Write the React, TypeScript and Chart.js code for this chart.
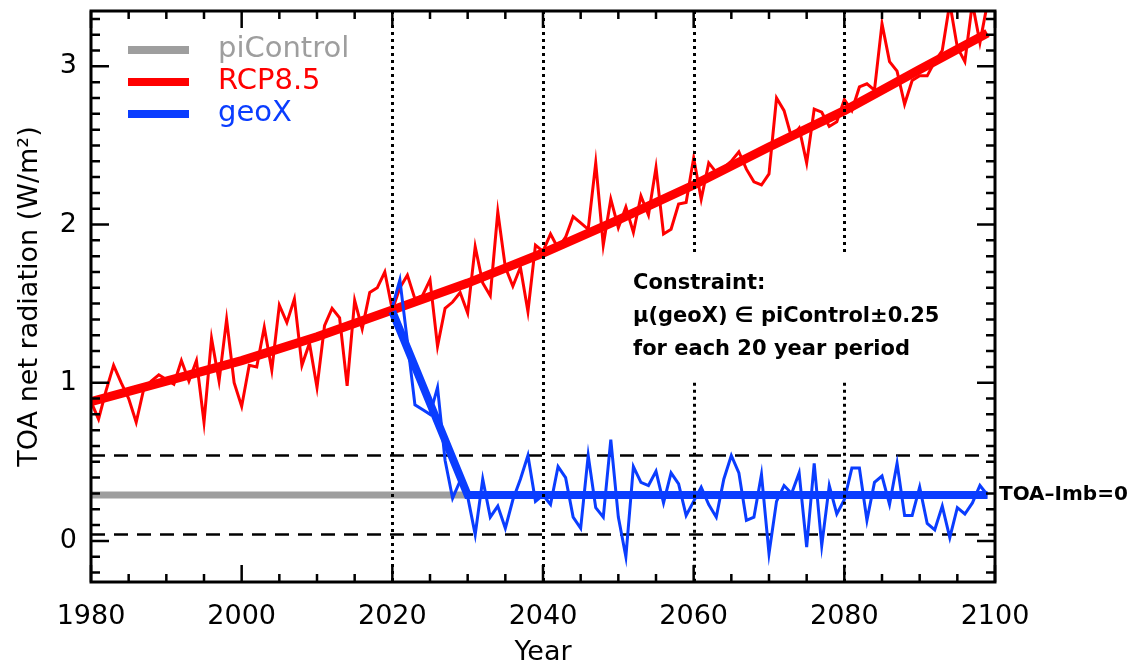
import React, { useEffect, useRef } from 'react';
import { Chart, registerables } from 'chart.js';

Chart.register(...registerables);

// ---------- DATA ----------
const rcpStartYear = 1980;
const rcpAnnual = [
  0.88, 0.77, 0.95, 1.11, 1.0, 0.9, 0.75, 0.96, 1.01, 1.05,
  1.02, 0.99, 1.14, 1.01, 1.14, 0.75, 1.28, 1.01, 1.4, 1.0,
  0.85, 1.11, 1.1, 1.35, 1.08, 1.49, 1.38, 1.53, 1.11, 1.25,
  0.97, 1.36, 1.47, 1.41, 0.98, 1.52, 1.34, 1.57, 1.6, 1.7,
  1.46, 1.6, 1.68, 1.53, 1.55, 1.65, 1.23, 1.47, 1.51, 1.57,
  1.44, 1.86, 1.63, 1.55, 2.08, 1.73, 1.61, 1.73, 1.45, 1.87,
  1.83, 1.94, 1.85, 1.92, 2.05, 2.01, 1.97, 2.39, 1.87, 2.16,
  1.98, 2.11, 1.95, 2.18, 2.06, 2.36, 1.94, 1.97, 2.13, 2.14,
  2.42, 2.16, 2.39, 2.33, 2.36, 2.4, 2.46, 2.35, 2.27, 2.25,
  2.32, 2.8, 2.72, 2.55, 2.61, 2.39, 2.73, 2.71, 2.62, 2.65,
  2.79, 2.72, 2.87, 2.89, 2.85, 3.27, 3.03, 2.97, 2.76, 2.91,
  2.94, 2.94, 3.03, 3.1, 3.4, 3.12, 3.03, 3.4, 3.15, 3.4,
];

const geoStartYear = 2020;
const geoAnnual = [
  1.48, 1.65, 1.26, 0.86, 0.83, 0.8, 0.97, 0.51, 0.27, 0.38,
  0.28, 0.04, 0.39, 0.15, 0.22, 0.08, 0.26, 0.39, 0.54, 0.25,
  0.29, 0.23, 0.47, 0.4, 0.15, 0.08, 0.54, 0.21, 0.15, 0.64,
  0.15, -0.1, 0.47, 0.37, 0.35, 0.44, 0.24, 0.43, 0.36, 0.16,
  0.25, 0.34, 0.23, 0.15, 0.39, 0.54, 0.43, 0.13, 0.15, 0.42,
  -0.08, 0.25, 0.35, 0.3, 0.43, -0.04, 0.49, -0.03, 0.35, 0.17,
  0.26, 0.46, 0.46, 0.13, 0.37, 0.41, 0.23, 0.49, 0.16, 0.16,
  0.34, 0.11, 0.07, 0.22, 0.02, 0.21, 0.17, 0.24, 0.35, 0.29,
];

const rcpTrendYears = [1980, 1990, 2000, 2010, 2020, 2030, 2040, 2050, 2060, 2070, 2080, 2090, 2099];
const rcpTrendValues = [0.88, 1.01, 1.14, 1.29, 1.46, 1.63, 1.82, 2.03, 2.25, 2.49, 2.72, 2.98, 3.21];

const geoTrendYears = [2020, 2030, 2099];
const geoTrendValues = [1.45, 0.29, 0.29];

const piControlYears = [1980, 2099];
const piControlLevel = 0.29;
const piControlTolerance = 0.25;

const xTickValues = [1980, 2000, 2020, 2040, 2060, 2080, 2100];
const yTickValues = [0, 1, 2, 3];
const dividerYears = [2020, 2040, 2060, 2080];
const dividerYearsWithGap = [2060, 2080];
const dividerGapRange = [1.0, 1.82];

const legendLabels = ['piControl', 'RCP8.5', 'geoX'];
const annotationLines = ['Constraint:', '\u03bc(geoX) \u2208 piControl\u00b10.25', 'for each 20 year period'];
const balanceLabel = 'TOA\u2013Imb=0';

// ---------- STYLE ----------
const GRAY = '#9E9E9E';
const RED = '#FF0000';
const BLUE = '#0A3DFF';
const FONT = "'DejaVu Sans', 'Liberation Sans', sans-serif";

const toPoints = (start: number, vals: number[]) => vals.map((v, i) => ({ x: start + i, y: v }));
const zip = (xs: number[], ys: number[]) => xs.map((x, i) => ({ x, y: ys[i] }));

const decorPlugin = {
  id: 'decor',
  afterDatasetsDraw(chart: any) {
    const { ctx, chartArea: a, scales } = chart;
    const xs = scales.x;
    const ys = scales.y;
    ctx.save();
    ctx.strokeStyle = '#000';

    // dotted verticals
    ctx.lineWidth = 3;
    ctx.setLineDash([3, 4]);
    dividerYears.forEach((yr) => {
      const px = Math.round(xs.getPixelForValue(yr)) + 0.5;
      ctx.beginPath();
      if (dividerYearsWithGap.includes(yr)) {
        ctx.moveTo(px, a.top);
        ctx.lineTo(px, ys.getPixelForValue(dividerGapRange[1]));
        ctx.moveTo(px, ys.getPixelForValue(dividerGapRange[0]));
        ctx.lineTo(px, a.bottom);
      } else {
        ctx.moveTo(px, a.top);
        ctx.lineTo(px, a.bottom);
      }
      ctx.stroke();
    });
    ctx.setLineDash([]);

    // frame
    ctx.lineWidth = 3;
    ctx.strokeRect(a.left, a.top, a.right - a.left, a.bottom - a.top);

    // x ticks (inward, bottom and top)
    ctx.lineWidth = 2.5;
    for (let v = xs.min; v <= xs.max; v += 5) {
      const major = v % 20 === 0;
      const len = major ? 17 : 8;
      const px = xs.getPixelForValue(v);
      ctx.beginPath();
      ctx.moveTo(px, a.bottom);
      ctx.lineTo(px, a.bottom - len);
      ctx.moveTo(px, a.top);
      ctx.lineTo(px, a.top + len);
      ctx.stroke();
    }
    // y ticks (inward, left and right)
    for (let k = Math.ceil(ys.min * 10); k <= Math.floor(ys.max * 10); k++) {
      const major = k % 10 === 0;
      const len = major ? 18 : 9;
      const py = ys.getPixelForValue(k / 10);
      ctx.beginPath();
      ctx.moveTo(a.left, py);
      ctx.lineTo(a.left + len, py);
      ctx.moveTo(a.right, py);
      ctx.lineTo(a.right - len, py);
      ctx.stroke();
    }

    // legend
    const legendColors = [GRAY, RED, BLUE];
    ctx.font = `29px ${FONT}`;
    ctx.textBaseline = 'alphabetic';
    ctx.textAlign = 'left';
    legendLabels.forEach((lab, i) => {
      const ly = a.top + 39 + i * 32;
      ctx.strokeStyle = legendColors[i];
      ctx.lineWidth = 8;
      ctx.beginPath();
      ctx.moveTo(a.left + 37, ly);
      ctx.lineTo(a.left + 98, ly);
      ctx.stroke();
      ctx.fillStyle = legendColors[i];
      ctx.fillText(lab, a.left + 127, ly + 7);
    });

    // annotation
    ctx.fillStyle = '#000';
    ctx.font = `bold 21px ${FONT}`;
    annotationLines.forEach((t, i) => {
      ctx.fillText(t, a.left + 542, a.top + 278 + i * 33);
    });

    // balance label
    ctx.font = `bold 20px ${FONT}`;
    ctx.textBaseline = 'middle';
    ctx.fillText(balanceLabel, a.right + 4, ys.getPixelForValue(piControlLevel));

    ctx.restore();
  },
};

export default function App() {
  const ref = useRef<HTMLCanvasElement | null>(null);

  useEffect(() => {
    document.body.style.margin = '0';
    const canvas = ref.current;
    if (!canvas) return;
    const dashed = (level: number) => ({
      data: [{ x: 1980, y: level }, { x: 2100, y: level }],
      borderColor: '#000',
      borderWidth: 2.5,
      borderDash: [14, 9],
    });
    const chart = new Chart(canvas, {
      type: 'line',
      data: {
        datasets: [
          { label: 'geoX trend', data: zip(geoTrendYears, geoTrendValues), borderColor: BLUE, borderWidth: 8 },
          { label: 'geoX', data: toPoints(geoStartYear, geoAnnual), borderColor: BLUE, borderWidth: 3 },
          { label: 'RCP8.5 trend', data: zip(rcpTrendYears, rcpTrendValues), borderColor: RED, borderWidth: 9 },
          { label: 'RCP8.5', data: toPoints(rcpStartYear, rcpAnnual), borderColor: RED, borderWidth: 3 },
          { label: 'piControl', data: piControlYears.map((x) => ({ x, y: piControlLevel })), borderColor: GRAY, borderWidth: 7 },
          { label: 'upper', ...dashed(piControlLevel + piControlTolerance) },
          { label: 'lower', ...dashed(piControlLevel - piControlTolerance) },
        ] as any,
      },
      options: {
        responsive: false,
        animation: false,
        layout: { padding: { left: 0, right: 139, top: 11, bottom: 0 } },
        elements: { point: { radius: 0 }, line: { tension: 0, borderCapStyle: 'butt', borderJoinStyle: 'miter' } },
        plugins: { legend: { display: false }, tooltip: { enabled: false } },
        scales: {
          x: {
            type: 'linear',
            min: 1980,
            max: 2100,
            afterBuildTicks: (s: any) => {
              s.ticks = xTickValues.map((v) => ({ value: v }));
            },
            afterFit: (s: any) => {
              s.height = 84;
              s.paddingLeft = 0;
              s.paddingRight = 0;
              s.paddingTop = 0;
              s.paddingBottom = 0;
            },
            grid: { display: false, drawTicks: false },
            border: { display: false },
            ticks: {
              autoSkip: false,
              maxRotation: 0,
              padding: 19,
              color: '#000',
              font: { family: FONT, size: 27 },
              callback: (v: any) => String(v),
            },
            title: { display: true, text: 'Year', color: '#000', font: { family: FONT, size: 27, lineHeight: 1.0 }, padding: 0 },
          },
          y: {
            type: 'linear',
            min: -0.26,
            max: 3.35,
            afterBuildTicks: (s: any) => {
              s.ticks = yTickValues.map((v) => ({ value: v }));
            },
            afterFit: (s: any) => {
              s.width = 91;
              s.paddingLeft = 0;
              s.paddingRight = 0;
              s.paddingTop = 0;
              s.paddingBottom = 0;
            },
            grid: { display: false, drawTicks: false },
            border: { display: false },
            ticks: {
              padding: 14,
              color: '#000',
              font: { family: FONT, size: 27 },
              callback: (v: any) => String(v),
            },
            title: {
              display: true,
              text: 'TOA net radiation (W/m\u00b2)',
              color: '#000',
              font: { family: FONT, size: 27 },
              padding: { top: 14, bottom: 0 },
            },
          },
        },
      } as any,
      plugins: [decorPlugin],
    });
    return () => chart.destroy();
  }, []);

  return (
    <div style={{ position: 'absolute', left: 0, top: 0, width: 1134, height: 666, background: '#fff' }}>
      <canvas ref={ref} width={1134} height={666} />
    </div>
  );
}
